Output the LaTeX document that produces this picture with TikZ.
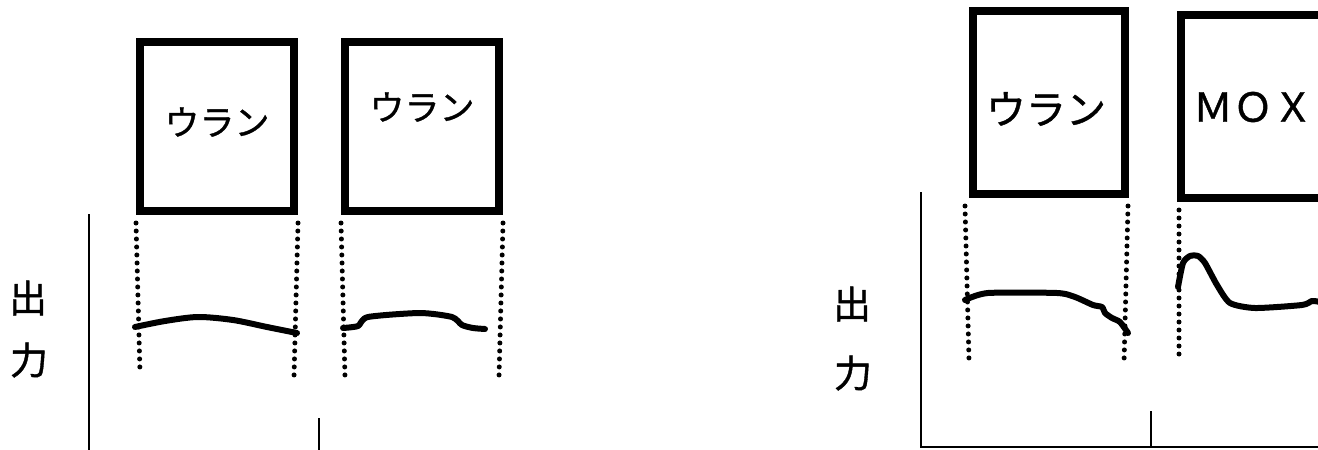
\documentclass[tikz,border=0pt]{standalone}
\usepackage{fontspec}
\setmainfont[FakeBold=1]{Noto Sans CJK JP}
\tikzset{
  fuel/.style={draw, line width=8pt, minimum width=154pt, minimum height=169pt, inner sep=0pt},
  lbl/.style={inner sep=0pt, font=\fontsize{35}{38}\selectfont},
  lblr/.style={inner sep=0pt, font=\fontsize{40}{44}\selectfont},
  axislabel/.style={inner sep=0pt, font=\fontsize{38}{40}\selectfont},
  axis/.style={line width=2pt},
  guide/.style={line width=5pt, line cap=round, dash pattern=on 0pt off 8pt},
  curve/.style={line width=6pt, line cap=round, line join=round},
}
\begin{document}
\begin{tikzpicture}[x=1pt, y=-1pt]
\useasboundingbox (0,0) rectangle (1318,450);
\clip (0,0) rectangle (1318,450);
\fill[white] (0,0) rectangle (1318,450);
% ---------- left panel ----------
\node[fuel] (b1) at (217,126.5) {};
\node[fuel] (b2) at (422,126.5) {};
\node[lbl] (t1) at (217,122) {ウラン};
\node[lbl] (t2) at (422,107) {ウラン};
\node[axislabel] (y1a) at (28,298) {出};
\node[axislabel] (y1b) at (29,360) {力};
\coordinate (ax1top) at (89,214);
\coordinate (ax1bot) at (89,452);
\draw[axis] (ax1top) -- (ax1bot);
\coordinate (tk1top) at (319,418);
\coordinate (tk1bot) at (319,452);
\draw[axis] (tk1top) -- (tk1bot);
\coordinate (d1) at (140,373);
\coordinate (d2) at (294,377);
\coordinate (d3) at (345,377);
\coordinate (d4) at (499,377);
\draw[guide] ([yshift=-8pt]b1.south west) -- (d1);
\draw[guide] ([yshift=-8pt]b1.south east) -- (d2);
\draw[guide] ([yshift=-8pt]b2.south west) -- (d3);
\draw[guide] ([yshift=-8pt]b2.south east) -- (d4);
\draw[curve] plot[smooth, tension=0.5] coordinates {(135,327) (165,321) (198,317) (233,320) (267,327) (297,333)};
\draw[curve] plot[smooth, tension=0.4] coordinates {(343,328) (358,326) (368,317) (420,313) (452,317) (462,325) (473,328) (485,329)};
% ---------- right panel ----------
\node[fuel, minimum width=152pt, minimum height=183pt] (b3) at (1049,102.5) {};
\node[fuel, minimum width=170pt, minimum height=183pt, anchor=north west] (b4) at (1177,11) {};
\node[lblr] (t3) at (1046,109) {ウラン};
\node[lblr] (t4) at (1253,107) {ＭＯＸ};
\node[axislabel] (y2a) at (852,304) {出};
\node[axislabel] (y2b) at (853,373) {力};
\coordinate (ax2top) at (921,192);
\coordinate (ax2org) at (921,447);
\coordinate (ax2end) at (1320,447);
\draw[axis] (ax2top) -- (ax2org) -- (ax2end);
\coordinate (tk2top) at (1151,411);
\coordinate (tk2bot) at (1151,447);
\draw[axis] (tk2top) -- (tk2bot);
\coordinate (d5) at (969,360);
\coordinate (d6) at (1124,364);
\coordinate (d7) at (1179,360);
\draw[guide] ([xshift=-4pt,yshift=-8pt]b3.south west) -- (d5);
\draw[guide] ([xshift=-1pt,yshift=-8pt]b3.south east) -- (d6);
\draw[guide] ([xshift=2pt,yshift=-8pt]b4.south west) -- (d7);
\draw[curve] plot[smooth, tension=0.4] coordinates {(965,300) (988,293) (1057,293) (1075,297) (1093,305) (1102,307) (1105,313) (1112,318) (1120,322) (1128,333)};
\draw[curve] plot[smooth, tension=0.4] coordinates {(1178,287) (1183,263) (1190,256) (1198,256) (1205,263) (1217,285) (1230,303) (1255,308) (1302,305) (1312,301) (1320,302)};
\end{tikzpicture}
\end{document}
